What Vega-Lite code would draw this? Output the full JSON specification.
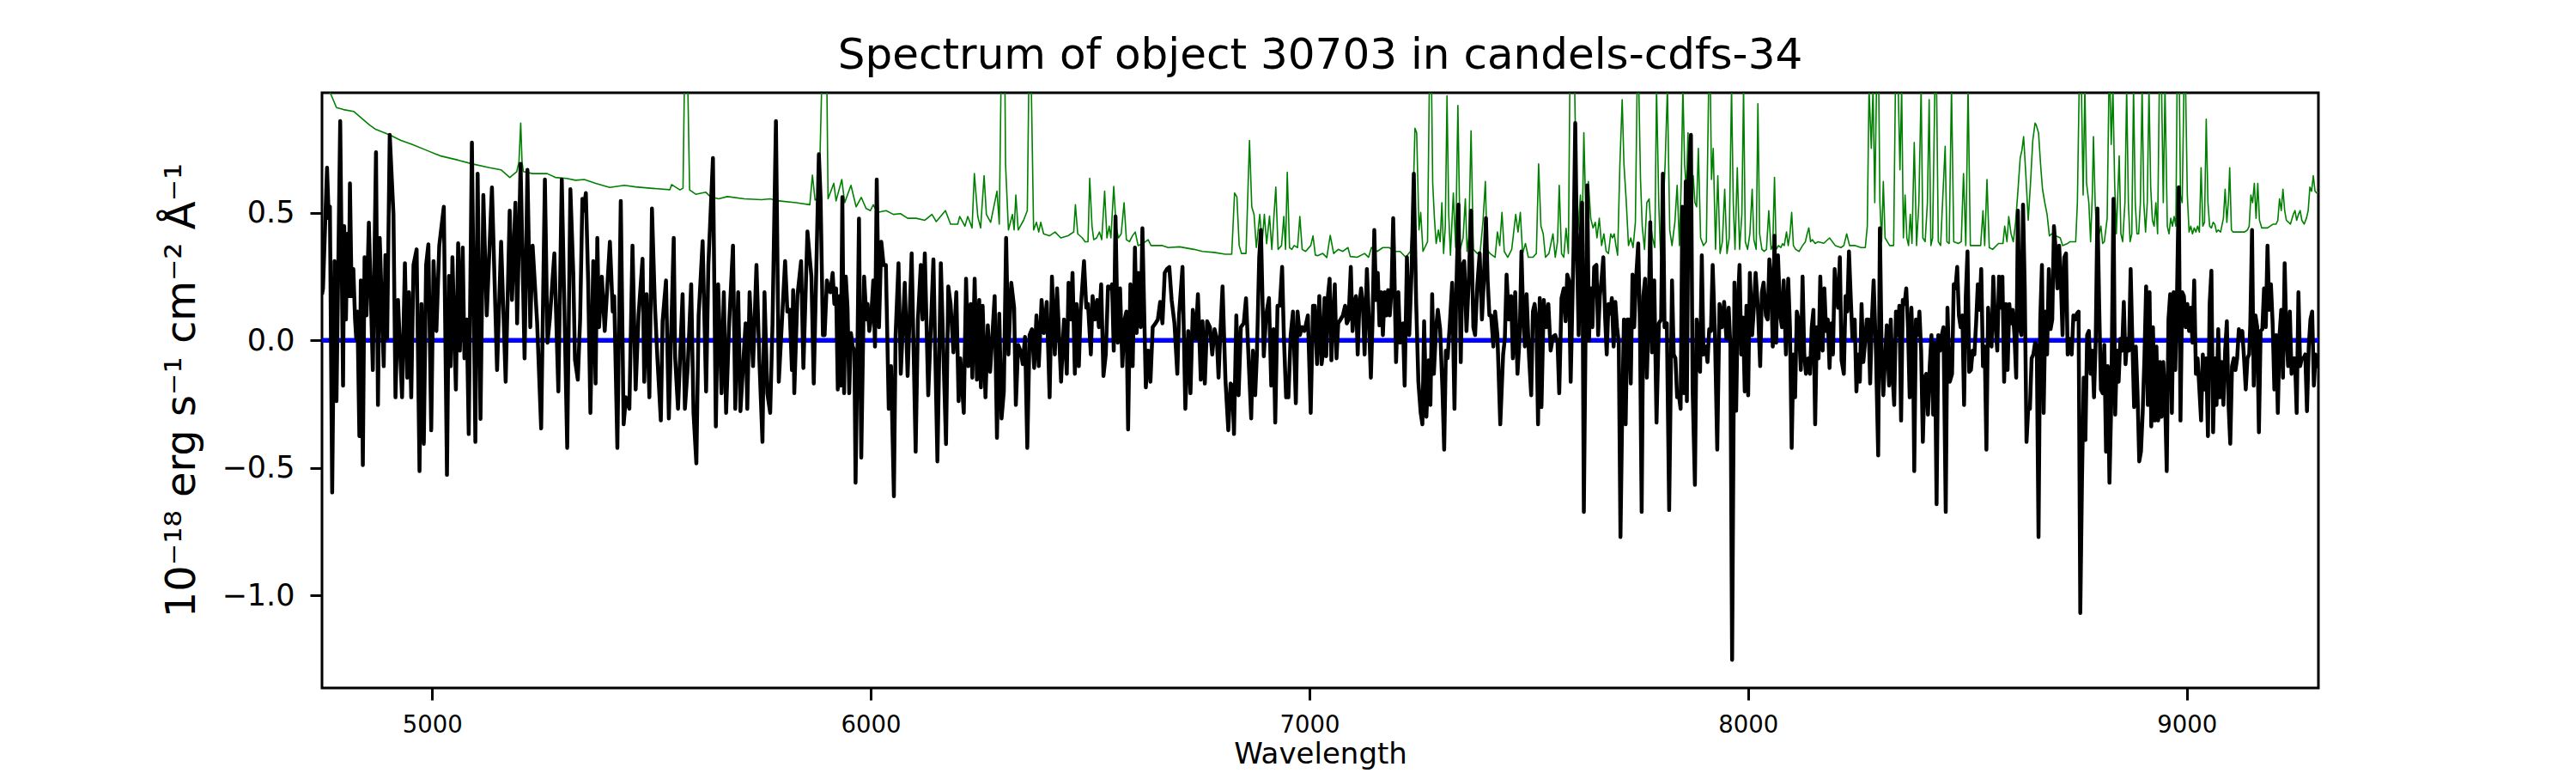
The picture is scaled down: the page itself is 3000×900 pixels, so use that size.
{
  "$schema": "https://vega.github.io/schema/vega-lite/v6.json",
  "description": "Spectrum of object 30703 in candels-cdfs-34: flux (black), error spectrum (green), zero level (blue).",
  "width": 2325,
  "height": 693,
  "autosize": {"type": "none"},
  "padding": {"left": 375, "top": 108, "right": 300, "bottom": 99},
  "background": "white",
  "title": {
    "text": "Spectrum of object 30703 in candels-cdfs-34",
    "font": "DejaVu Sans",
    "fontSize": 50,
    "fontWeight": "normal",
    "color": "black",
    "anchor": "middle",
    "frame": "group",
    "baseline": "alphabetic",
    "offset": 24,
    "dy": 46
  },
  "datasets": {
    "flux": [
      {"w":4749.0,"f":0.18},{"w":4751.3,"f":0.204},{"w":4760.5,"f":0.677},{"w":4764.4,"f":0.479},{"w":4767.0,"f":0.525},{"w":4772.2,"f":-0.596},{"w":4777.5,"f":0.311},{"w":4782.0,"f":-0.238},{"w":4790.5,"f":0.86},{"w":4797.0,"f":-0.177},
      {"w":4799.6,"f":0.448},{"w":4803.6,"f":0.082},{"w":4806.8,"f":0.418},{"w":4810.1,"f":0.174},{"w":4812.7,"f":0.616},{"w":4816.6,"f":0.174},{"w":4820.5,"f":0.28},{"w":4824.4,"f":0.082},{"w":4827.1,"f":0.006},{"w":4829.7,"f":0.113},
      {"w":4834.2,"f":-0.375},{"w":4837.5,"f":0.235},{"w":4842.1,"f":-0.489},{"w":4846.0,"f":0.326},{"w":4850.5,"f":0.098},{"w":4855.8,"f":0.462},{"w":4864.9,"f":-0.116},{"w":4872.1,"f":0.738},{"w":4876.6,"f":-0.253},{"w":4880.6,"f":0.402},
      {"w":4889.7,"f":-0.101},{"w":4893.6,"f":0.335},{"w":4897.5,"f":0.006},{"w":4903.4,"f":0.806},{"w":4911.9,"f":0.494},{"w":4916.5,"f":-0.223},{"w":4922.3,"f":0.159},{"w":4931.5,"f":-0.223},{"w":4938.0,"f":0.303},{"w":4943.2,"f":-0.146},
      {"w":4947.1,"f":0.189},{"w":4952.4,"f":-0.223},{"w":4957.6,"f":0.296},{"w":4964.7,"f":0.357},{"w":4971.3,"f":-0.512},{"w":4975.8,"f":0.143},{"w":4981.1,"f":-0.405},{"w":4986.3,"f":0.296},{"w":4991.5,"f":0.377},{"w":4998.0,"f":-0.352},
      {"w":5003.3,"f":0.311},{"w":5009.8,"f":0.037},{"w":5016.3,"f":0.372},{"w":5026.7,"f":0.524},{"w":5033.9,"f":-0.527},{"w":5038.5,"f":0.253},{"w":5042.4,"f":-0.101},{"w":5046.3,"f":0.326},{"w":5054.2,"f":-0.192},{"w":5059.4,"f":0.381},
      {"w":5063.3,"f":-0.04},{"w":5069.8,"f":0.364},{"w":5073.7,"f":-0.07},{"w":5079.0,"f":0.082},{"w":5083.5,"f":-0.367},{"w":5090.7,"f":0.776},{"w":5098.6,"f":-0.398},{"w":5103.8,"f":0.654},{"w":5110.3,"f":-0.308},{"w":5116.8,"f":0.57},
      {"w":5124.6,"f":0.098},{"w":5136.4,"f":0.6},{"w":5148.1,"f":-0.116},{"w":5157.3,"f":0.387},{"w":5167.7,"f":-0.162},{"w":5176.9,"f":0.509},{"w":5182.1,"f":0.159},{"w":5189.9,"f":0.54},{"w":5193.8,"f":0.067},{"w":5201.7,"f":0.692},
      {"w":5210.8,"f":-0.07},{"w":5217.3,"f":0.669},{"w":5223.8,"f":0.052},{"w":5229.1,"f":0.372},{"w":5239.5,"f":0.067},{"w":5248.6,"f":-0.345},{"w":5257.1,"f":0.631},{"w":5263.0,"f":-0.009},{"w":5268.2,"f":0.082},{"w":5278.7,"f":0.341},
      {"w":5287.8,"f":-0.2},{"w":5295.6,"f":0.631},{"w":5308.0,"f":-0.421},{"w":5315.2,"f":0.593},{"w":5321.8,"f":0.265},{"w":5325.7,"f":-0.075},{"w":5332.2,"f":-0.154},{"w":5337.4,"f":0.082},{"w":5342.6,"f":0.555},{"w":5345.3,"f":0.509},
      {"w":5350.5,"f":0.578},{"w":5355.7,"f":0.235},{"w":5360.9,"f":-0.284},{"w":5367.4,"f":0.311},{"w":5372.7,"f":-0.169},{"w":5376.6,"f":0.402},{"w":5380.5,"f":0.052},{"w":5387.0,"f":0.25},{"w":5393.5,"f":0.037},{"w":5405.3,"f":0.387},
      {"w":5411.8,"f":0.113},{"w":5415.1,"f":0.174},{"w":5422.3,"f":-0.421},{"w":5430.1,"f":0.547},{"w":5436.6,"f":-0.329},{"w":5441.8,"f":-0.223},{"w":5449.7,"f":-0.268},{"w":5456.8,"f":0.372},{"w":5464.0,"f":-0.192},{"w":5470.6,"f":0.098},
      {"w":5479.7,"f":0.32},{"w":5483.6,"f":-0.162},{"w":5488.8,"f":0.181},{"w":5495.3,"f":-0.223},{"w":5501.2,"f":0.517},{"w":5507.7,"f":0.143},{"w":5513.6,"f":-0.07},{"w":5521.4,"f":-0.314},{"w":5525.4,"f":0.075},{"w":5533.2,"f":0.235},
      {"w":5539.7,"f":-0.306},{"w":5550.8,"f":0.402},{"w":5554.1,"f":-0.07},{"w":5560.6,"f":-0.268},{"w":5571.0,"f":0.181},{"w":5576.3,"f":-0.268},{"w":5582.8,"f":-0.101},{"w":5590.6,"f":0.22},{"w":5595.9,"f":-0.284},{"w":5602.4,"f":-0.482},
      {"w":5607.6,"f":0.098},{"w":5616.7,"f":0.389},{"w":5624.6,"f":-0.2},{"w":5629.8,"f":0.296},{"w":5640.2,"f":0.715},{"w":5646.8,"f":-0.337},{"w":5652.0,"f":0.22},{"w":5659.8,"f":-0.207},{"w":5665.0,"f":0.189},{"w":5670.2,"f":-0.284},
      {"w":5676.8,"f":0.052},{"w":5685.9,"f":0.372},{"w":5691.1,"f":-0.268},{"w":5697.7,"f":0.189},{"w":5702.9,"f":-0.277},{"w":5714.6,"f":0.067},{"w":5718.5,"f":-0.268},{"w":5723.8,"f":0.189},{"w":5731.6,"f":-0.101},{"w":5739.4,"f":0.296},
      {"w":5745.9,"f":-0.07},{"w":5753.1,"f":-0.398},{"w":5757.7,"f":0.189},{"w":5764.2,"f":-0.207},{"w":5770.7,"f":-0.284},{"w":5776.0,"f":0.067},{"w":5783.8,"f":0.86},{"w":5790.3,"f":-0.162},{"w":5804.7,"f":0.311},{"w":5809.9,"f":0.113},
      {"w":5815.1,"f":0.12},{"w":5820.3,"f":-0.116},{"w":5823.0,"f":0.197},{"w":5825.6,"f":-0.207},{"w":5832.7,"f":0.174},{"w":5841.2,"f":0.311},{"w":5846.4,"f":-0.108},{"w":5855.6,"f":0.427},{"w":5864.7,"f":0.25},{"w":5870.0,"f":-0.169},
      {"w":5881.7,"f":0.73},{"w":5885.6,"f":0.56},{"w":5890.9,"f":0.021},{"w":5894.8,"f":0.021},{"w":5900.0,"f":0.235},{"w":5903.9,"f":0.204},{"w":5907.8,"f":0.189},{"w":5913.1,"f":0.265},{"w":5917.0,"f":0.143},{"w":5920.9,"f":0.204},
      {"w":5924.8,"f":-0.192},{"w":5928.7,"f":0.174},{"w":5931.3,"f":-0.177},{"w":5935.2,"f":0.562},{"w":5939.2,"f":-0.207},{"w":5943.1,"f":0.25},{"w":5947.0,"f":0.128},{"w":5950.9,"f":-0.207},{"w":5954.8,"f":0.029},{"w":5958.7,"f":-0.024},
      {"w":5962.6,"f":-0.04},{"w":5965.3,"f":-0.558},{"w":5969.2,"f":-0.101},{"w":5973.1,"f":0.478},{"w":5978.3,"f":-0.459},{"w":5984.8,"f":0.25},{"w":5990.1,"f":0.082},{"w":5992.7,"f":0.143},{"w":5996.6,"f":0.037},{"w":6000.5,"f":0.082},
      {"w":6005.7,"f":0.235},{"w":6009.6,"f":-0.024},{"w":6013.6,"f":0.631},{"w":6018.8,"f":0.052},{"w":6024.0,"f":0.387},{"w":6029.2,"f":0.296},{"w":6034.4,"f":0.296},{"w":6041.0,"f":-0.268},{"w":6046.2,"f":-0.101},{"w":6052.7,"f":-0.611},
      {"w":6056.6,"f":0.021},{"w":6063.2,"f":0.303},{"w":6068.4,"f":-0.131},{"w":6077.5,"f":0.226},{"w":6084.0,"f":-0.139},{"w":6093.2,"f":0.341},{"w":6102.3,"f":-0.436},{"w":6107.5,"f":0.082},{"w":6114.0,"f":0.296},{"w":6118.0,"f":0.082},
      {"w":6123.2,"f":0.341},{"w":6131.0,"f":-0.215},{"w":6142.8,"f":0.318},{"w":6151.9,"f":-0.474},{"w":6159.7,"f":0.303},{"w":6171.5,"f":-0.406},{"w":6176.7,"f":0.212},{"w":6181.9,"f":0.143},{"w":6188.4,"f":-0.047},{"w":6195.0,"f":0.189},
      {"w":6200.2,"f":-0.238},{"w":6204.1,"f":-0.07},{"w":6212.0,"f":-0.284},{"w":6217.2,"f":0.242},{"w":6222.4,"f":-0.101},{"w":6227.6,"f":0.143},{"w":6231.5,"f":-0.146},{"w":6236.8,"f":0.242},{"w":6242.0,"f":-0.154},{"w":6247.2,"f":0.159},
      {"w":6251.1,"f":-0.184},{"w":6255.0,"f":0.136},{"w":6261.5,"f":-0.223},{"w":6266.8,"f":0.059},{"w":6272.0,"f":-0.123},{"w":6277.2,"f":0.021},{"w":6282.4,"f":0.174},{"w":6287.7,"f":-0.382},{"w":6292.9,"f":0.105},{"w":6298.1,"f":-0.306},
      {"w":6303.3,"f":-0.2},{"w":6308.5,"f":0.402},{"w":6313.8,"f":-0.055},{"w":6320.3,"f":0.226},{"w":6326.8,"f":0.128},{"w":6330.7,"f":-0.253},{"w":6336.0,"f":-0.017},{"w":6342.5,"f":-0.047},{"w":6346.4,"f":-0.093},{"w":6351.6,"f":0.014},
      {"w":6356.8,"f":-0.421},{"w":6362.0,"f":0.021},{"w":6367.3,"f":0.044},{"w":6372.5,"f":-0.108},{"w":6377.7,"f":0.098},{"w":6382.9,"f":-0.101},{"w":6389.4,"f":0.159},{"w":6394.7,"f":0.029},{"w":6401.2,"f":0.151},{"w":6407.7,"f":-0.223},
      {"w":6413.0,"f":0.25},{"w":6419.5,"f":-0.055},{"w":6424.7,"f":0.204},{"w":6433.8,"f":-0.162},{"w":6440.4,"f":0.082},{"w":6446.9,"f":-0.131},{"w":6450.8,"f":0.226},{"w":6456.0,"f":0.082},{"w":6459.9,"f":0.265},{"w":6465.2,"f":-0.131},
      {"w":6469.1,"f":0.143},{"w":6474.3,"f":-0.101},{"w":6478.2,"f":0.113},{"w":6486.1,"f":0.311},{"w":6491.3,"f":0.128},{"w":6495.2,"f":0.143},{"w":6501.7,"f":-0.055},{"w":6505.6,"f":0.174},{"w":6510.9,"f":0.082},{"w":6516.1,"f":0.159},
      {"w":6520.0,"f":0.052},{"w":6525.2,"f":0.22},{"w":6530.4,"f":-0.139},{"w":6535.7,"f":-0.055},{"w":6540.9,"f":0.212},{"w":6546.1,"f":0.204},{"w":6550.0,"f":0.22},{"w":6553.9,"f":-0.04},{"w":6557.9,"f":0.486},{"w":6563.1,"f":-0.009},
      {"w":6568.3,"f":0.204},{"w":6573.5,"f":-0.101},{"w":6578.7,"f":0.082},{"w":6582.7,"f":0.113},{"w":6586.6,"f":-0.349},{"w":6591.8,"f":0.22},{"w":6597.0,"f":-0.101},{"w":6602.2,"f":0.364},{"w":6606.2,"f":0.029},{"w":6610.1,"f":0.265},
      {"w":6615.3,"f":0.052},{"w":6619.2,"f":0.44},{"w":6627.0,"f":-0.184},{"w":6632.3,"f":-0.04},{"w":6637.5,"f":-0.162},{"w":6642.7,"f":0.052},{"w":6649.2,"f":0.067},{"w":6654.4,"f":0.082},{"w":6659.7,"f":0.151},{"w":6664.9,"f":0.067},
      {"w":6670.1,"f":0.265},{"w":6675.3,"f":0.28},{"w":6680.5,"f":0.288},{"w":6685.8,"f":0.159},{"w":6692.3,"f":0.067},{"w":6698.8,"f":-0.131},{"w":6702.7,"f":0.098},{"w":6710.6,"f":0.288},{"w":6717.1,"f":-0.268},{"w":6723.6,"f":0.037},
      {"w":6728.8,"f":-0.207},{"w":6734.1,"f":0.12},{"w":6740.6,"f":0.006},{"w":6745.8,"f":0.181},{"w":6752.3,"f":-0.154},{"w":6756.2,"f":0.075},{"w":6761.5,"f":-0.169},{"w":6766.7,"f":0.075},{"w":6773.2,"f":0.052},{"w":6778.4,"f":-0.055},
      {"w":6783.7,"f":0.044},{"w":6788.9,"f":0.006},{"w":6792.8,"f":-0.146},{"w":6796.7,"f":0.021},{"w":6801.9,"f":0.212},{"w":6808.5,"f":-0.154},{"w":6815.0,"f":-0.352},{"w":6820.2,"f":-0.169},{"w":6824.1,"f":-0.177},{"w":6828.0,"f":-0.367},
      {"w":6833.3,"f":0.098},{"w":6838.5,"f":-0.215},{"w":6843.7,"f":0.052},{"w":6850.2,"f":0.067},{"w":6855.4,"f":0.165},{"w":6862.0,"f":-0.101},{"w":6867.2,"f":-0.306},{"w":6871.1,"f":-0.04},{"w":6876.3,"f":-0.215},{"w":6880.2,"f":-0.055},
      {"w":6885.5,"f":0.326},{"w":6889.4,"f":0.433},{"w":6895.9,"f":-0.062},{"w":6901.1,"f":0.098},{"w":6907.7,"f":0.166},{"w":6912.9,"f":-0.177},{"w":6918.1,"f":0.044},{"w":6922.0,"f":-0.322},{"w":6927.2,"f":0.136},{"w":6932.5,"f":0.136},
      {"w":6937.7,"f":0.288},{"w":6941.6,"f":0.021},{"w":6946.8,"f":-0.223},{"w":6952.0,"f":-0.223},{"w":6957.2,"f":0.021},{"w":6962.5,"f":0.113},{"w":6969.0,"f":-0.246},{"w":6972.9,"f":0.113},{"w":6978.1,"f":0.021},{"w":6983.4,"f":0.052},
      {"w":6988.6,"f":0.037},{"w":6996.4,"f":0.098},{"w":7002.9,"f":-0.284},{"w":7008.1,"f":0.136},{"w":7012.1,"f":0.136},{"w":7017.3,"f":-0.093},{"w":7022.5,"f":0.174},{"w":7027.7,"f":-0.093},{"w":7030.4,"f":-0.055},{"w":7034.3,"f":0.166},
      {"w":7038.2,"f":-0.062},{"w":7042.1,"f":0.174},{"w":7046.0,"f":0.242},{"w":7050.0,"f":-0.078},{"w":7053.9,"f":0.082},{"w":7057.8,"f":0.22},{"w":7061.7,"f":-0.07},{"w":7065.6,"f":0.067},{"w":7070.8,"f":0.082},{"w":7076.1,"f":0.098},
      {"w":7081.3,"f":0.136},{"w":7085.2,"f":0.067},{"w":7089.1,"f":0.082},{"w":7094.3,"f":0.288},{"w":7098.3,"f":0.037},{"w":7102.2,"f":0.143},{"w":7106.1,"f":0.174},{"w":7110.0,"f":-0.055},{"w":7113.9,"f":0.143},{"w":7117.8,"f":0.204},
      {"w":7121.7,"f":0.143},{"w":7125.7,"f":-0.055},{"w":7130.9,"f":0.28},{"w":7134.8,"f":0.113},{"w":7140.0,"f":-0.146},{"w":7143.9,"f":0.082},{"w":7147.8,"f":0.433},{"w":7151.8,"f":0.159},{"w":7155.7,"f":0.265},{"w":7159.6,"f":0.059},
      {"w":7163.5,"f":0.189},{"w":7167.4,"f":0.021},{"w":7171.3,"f":0.189},{"w":7175.3,"f":0.098},{"w":7179.2,"f":0.197},{"w":7183.1,"f":0.098},{"w":7187.0,"f":0.197},{"w":7190.9,"f":0.479},{"w":7193.5,"f":0.28},{"w":7197.4,"f":-0.085},
      {"w":7202.7,"f":0.189},{"w":7206.6,"f":-0.009},{"w":7213.1,"f":0.067},{"w":7217.0,"f":-0.177},{"w":7222.2,"f":0.326},{"w":7227.5,"f":0.021},{"w":7232.7,"f":0.265},{"w":7237.9,"f":0.654},{"w":7243.1,"f":0.159},{"w":7248.3,"f":-0.162},
      {"w":7253.6,"f":-0.284},{"w":7257.5,"f":-0.329},{"w":7261.4,"f":0.075},{"w":7266.6,"f":-0.299},{"w":7271.8,"f":-0.078},{"w":7275.8,"f":-0.253},{"w":7279.7,"f":0.181},{"w":7283.6,"f":-0.131},{"w":7288.8,"f":0.052},{"w":7292.7,"f":0.12},
      {"w":7297.9,"f":0.044},{"w":7303.2,"f":-0.192},{"w":7307.1,"f":-0.428},{"w":7311.0,"f":-0.04},{"w":7314.9,"f":-0.07},{"w":7320.1,"f":0.067},{"w":7325.4,"f":0.226},{"w":7330.6,"f":-0.268},{"w":7334.5,"f":0.174},{"w":7339.7,"f":0.532},
      {"w":7344.9,"f":-0.085},{"w":7348.8,"f":0.296},{"w":7352.8,"f":0.311},{"w":7358.0,"f":0.037},{"w":7363.2,"f":0.235},{"w":7368.4,"f":0.509},{"w":7373.6,"f":0.052},{"w":7377.6,"f":0.021},{"w":7382.8,"f":0.22},{"w":7388.0,"f":0.341},
      {"w":7393.2,"f":0.082},{"w":7397.1,"f":0.22},{"w":7402.4,"f":0.479},{"w":7406.3,"f":0.235},{"w":7410.2,"f":0.098},{"w":7414.1,"f":0.098},{"w":7419.3,"f":-0.024},{"w":7423.2,"f":0.113},{"w":7428.5,"f":0.021},{"w":7435.0,"f":-0.329},
      {"w":7441.5,"f":-0.055},{"w":7445.4,"f":0.006},{"w":7449.4,"f":0.258},{"w":7454.6,"f":0.082},{"w":7459.8,"f":0.174},{"w":7463.7,"f":-0.07},{"w":7469.0,"f":0.189},{"w":7474.2,"f":-0.131},{"w":7479.4,"f":0.021},{"w":7483.3,"f":0.349},
      {"w":7487.2,"f":0.098},{"w":7491.1,"f":-0.024},{"w":7495.0,"f":0.181},{"w":7500.3,"f":-0.055},{"w":7505.5,"f":-0.215},{"w":7509.4,"f":0.113},{"w":7513.3,"f":0.143},{"w":7517.2,"f":0.082},{"w":7521.1,"f":-0.329},{"w":7525.0,"f":0.166},
      {"w":7528.9,"f":-0.261},{"w":7534.2,"f":0.159},{"w":7539.4,"f":0.052},{"w":7544.6,"f":0.143},{"w":7549.8,"f":-0.04},{"w":7555.1,"f":0.014},{"w":7560.3,"f":0.021},{"w":7565.5,"f":-0.009},{"w":7569.4,"f":-0.207},{"w":7574.6,"f":0.166},
      {"w":7579.8,"f":0.204},{"w":7583.8,"f":0.075},{"w":7587.7,"f":0.258},{"w":7591.6,"f":0.235},{"w":7595.5,"f":-0.162},{"w":7602.0,"f":0.357},{"w":7605.9,"f":0.852},{"w":7609.8,"f":0.357},{"w":7613.7,"f":0.021},{"w":7617.7,"f":0.387},
      {"w":7621.6,"f":0.54},{"w":7625.5,"f":-0.672},{"w":7629.4,"f":0.021},{"w":7633.3,"f":0.608},{"w":7637.2,"f":-0.001},{"w":7641.2,"f":0.204},{"w":7645.1,"f":0.052},{"w":7649.0,"f":0.288},{"w":7654.2,"f":0.296},{"w":7658.1,"f":0.021},
      {"w":7662.0,"f":0.174},{"w":7666.0,"f":0.242},{"w":7669.9,"f":0.326},{"w":7673.8,"f":0.098},{"w":7677.7,"f":-0.055},{"w":7681.6,"f":0.143},{"w":7685.5,"f":0.105},{"w":7689.4,"f":0.166},{"w":7693.4,"f":-0.024},{"w":7697.3,"f":0.151},
      {"w":7701.2,"f":0.052},{"w":7705.1,"f":-0.009},{"w":7709.0,"f":-0.771},{"w":7712.9,"f":-0.29},{"w":7716.9,"f":0.082},{"w":7720.8,"f":-0.329},{"w":7724.7,"f":0.082},{"w":7728.6,"f":0.082},{"w":7732.5,"f":-0.169},{"w":7736.4,"f":0.258},
      {"w":7740.3,"f":0.052},{"w":7744.3,"f":0.235},{"w":7749.5,"f":0.38},{"w":7753.4,"f":0.052},{"w":7757.3,"f":-0.672},{"w":7761.2,"f":0.174},{"w":7765.1,"f":0.242},{"w":7769.1,"f":-0.146},{"w":7773.0,"f":0.082},{"w":7776.9,"f":0.463},
      {"w":7780.8,"f":-0.047},{"w":7786.0,"f":0.235},{"w":7791.2,"f":-0.322},{"w":7796.5,"f":0.067},{"w":7801.7,"f":0.082},{"w":7805.6,"f":0.654},{"w":7809.5,"f":0.052},{"w":7814.7,"f":0.067},{"w":7820.0,"f":-0.665},{"w":7826.5,"f":0.235},
      {"w":7830.4,"f":-0.055},{"w":7834.3,"f":-0.07},{"w":7838.2,"f":-0.223},{"w":7842.2,"f":-0.215},{"w":7846.1,"f":-0.268},{"w":7850.0,"f":0.524},{"w":7853.9,"f":-0.207},{"w":7857.8,"f":0.623},{"w":7860.4,"f":-0.238},{"w":7864.3,"f":0.631},
      {"w":7869.6,"f":0.806},{"w":7873.5,"f":-0.192},{"w":7878.7,"f":-0.566},{"w":7882.6,"f":0.082},{"w":7886.5,"f":-0.009},{"w":7890.4,"f":-0.123},{"w":7894.4,"f":0.334},{"w":7898.3,"f":-0.055},{"w":7903.5,"f":-0.024},{"w":7907.4,"f":-0.085},
      {"w":7911.3,"f":0.044},{"w":7915.2,"f":0.037},{"w":7919.2,"f":0.296},{"w":7924.4,"f":0.021},{"w":7929.6,"f":-0.428},{"w":7934.8,"f":0.143},{"w":7940.0,"f":0.052},{"w":7945.3,"f":0.151},{"w":7950.5,"f":0.006},{"w":7955.7,"f":0.128},
      {"w":7959.6,"f":-0.024},{"w":7963.5,"f":-1.252},{"w":7968.8,"f":0.227},{"w":7972.7,"f":-0.276},{"w":7976.6,"f":0.143},{"w":7980.5,"f":0.296},{"w":7984.4,"f":-0.055},{"w":7988.3,"f":0.09},{"w":7992.3,"f":-0.2},{"w":7996.2,"f":0.136},
      {"w":8000.1,"f":-0.215},{"w":8004.0,"f":0.265},{"w":8009.2,"f":0.021},{"w":8013.1,"f":0.128},{"w":8017.1,"f":0.265},{"w":8022.3,"f":0.128},{"w":8027.5,"f":-0.101},{"w":8031.4,"f":0.189},{"w":8035.3,"f":0.227},{"w":8040.5,"f":0.098},
      {"w":8044.5,"f":0.082},{"w":8048.4,"f":0.318},{"w":8052.3,"f":0.235},{"w":8056.2,"f":-0.024},{"w":8060.1,"f":0.41},{"w":8064.0,"f":-0.009},{"w":8068.0,"f":0.334},{"w":8073.2,"f":0.098},{"w":8077.1,"f":0.052},{"w":8081.0,"f":0.235},
      {"w":8086.2,"f":-0.055},{"w":8091.4,"f":0.242},{"w":8095.4,"f":0.052},{"w":8099.3,"f":-0.421},{"w":8103.2,"f":-0.055},{"w":8107.1,"f":-0.223},{"w":8111.0,"f":0.113},{"w":8114.9,"f":0.082},{"w":8120.2,"f":-0.116},{"w":8124.1,"f":0.25},
      {"w":8128.0,"f":-0.055},{"w":8131.9,"f":-0.131},{"w":8137.1,"f":-0.07},{"w":8141.1,"f":-0.131},{"w":8145.0,"f":0.052},{"w":8148.9,"f":0.12},{"w":8152.8,"f":-0.329},{"w":8156.7,"f":0.052},{"w":8160.6,"f":-0.07},{"w":8164.5,"f":0.25},
      {"w":8169.9,"f":-0.04},{"w":8173.8,"f":0.204},{"w":8177.7,"f":0.037},{"w":8181.6,"f":0.082},{"w":8185.6,"f":-0.108},{"w":8189.5,"f":0.067},{"w":8193.4,"f":-0.055},{"w":8197.3,"f":0.28},{"w":8201.2,"f":0.174},{"w":8205.1,"f":0.128},
      {"w":8209.1,"f":0.326},{"w":8213.0,"f":-0.078},{"w":8218.2,"f":-0.131},{"w":8222.1,"f":0.174},{"w":8226.0,"f":0.113},{"w":8229.9,"f":0.349},{"w":8233.8,"f":0.174},{"w":8237.8,"f":0.006},{"w":8243.0,"f":0.082},{"w":8246.9,"f":-0.2},
      {"w":8250.8,"f":-0.055},{"w":8254.7,"f":-0.162},{"w":8258.6,"f":0.143},{"w":8262.6,"f":-0.085},{"w":8266.5,"f":-0.009},{"w":8270.4,"f":0.082},{"w":8274.3,"f":0.082},{"w":8278.2,"f":-0.169},{"w":8282.1,"f":0.082},{"w":8286.1,"f":0.235},
      {"w":8291.3,"f":-0.04},{"w":8296.5,"f":-0.451},{"w":8300.4,"f":0.44},{"w":8304.3,"f":-0.04},{"w":8308.2,"f":-0.215},{"w":8312.2,"f":-0.07},{"w":8316.1,"f":0.059},{"w":8321.3,"f":-0.177},{"w":8325.2,"f":0.082},{"w":8329.1,"f":-0.131},
      {"w":8333.0,"f":-0.253},{"w":8337.0,"f":0.113},{"w":8340.9,"f":0.021},{"w":8344.8,"f":0.136},{"w":8348.7,"f":-0.314},{"w":8352.6,"f":0.159},{"w":8356.5,"f":0.143},{"w":8360.5,"f":0.204},{"w":8364.4,"f":0.052},{"w":8368.3,"f":-0.223},
      {"w":8372.2,"f":0.128},{"w":8376.1,"f":-0.07},{"w":8378.7,"f":-0.512},{"w":8382.6,"f":0.082},{"w":8386.6,"f":0.021},{"w":8390.5,"f":0.113},{"w":8394.4,"f":-0.04},{"w":8398.3,"f":-0.398},{"w":8402.2,"f":-0.146},{"w":8406.1,"f":-0.131},
      {"w":8410.0,"f":-0.291},{"w":8414.0,"f":-0.101},{"w":8417.9,"f":0.021},{"w":8421.8,"f":-0.291},{"w":8425.7,"f":-0.009},{"w":8429.6,"f":-0.642},{"w":8433.5,"f":0.021},{"w":8437.5,"f":-0.04},{"w":8441.4,"f":0.021},{"w":8445.3,"f":0.052},
      {"w":8450.5,"f":-0.672},{"w":8454.4,"f":0.128},{"w":8459.7,"f":-0.162},{"w":8464.9,"f":-0.131},{"w":8468.8,"f":0.22},{"w":8472.7,"f":0.204},{"w":8476.6,"f":0.288},{"w":8480.5,"f":0.098},{"w":8484.4,"f":0.052},{"w":8488.4,"f":0.098},
      {"w":8492.3,"f":-0.253},{"w":8496.2,"f":0.174},{"w":8500.1,"f":0.349},{"w":8504.0,"f":-0.123},{"w":8507.9,"f":-0.116},{"w":8511.9,"f":-0.04},{"w":8515.8,"f":-0.055},{"w":8519.7,"f":0.067},{"w":8523.6,"f":0.22},{"w":8527.5,"f":0.12},
      {"w":8531.4,"f":0.28},{"w":8535.4,"f":-0.101},{"w":8539.3,"f":-0.024},{"w":8543.2,"f":-0.428},{"w":8547.1,"f":0.128},{"w":8551.0,"f":0.006},{"w":8554.9,"f":-0.024},{"w":8558.9,"f":0.25},{"w":8562.8,"f":0.082},{"w":8568.0,"f":-0.04},
      {"w":8571.9,"f":0.25},{"w":8575.8,"f":0.128},{"w":8579.7,"f":0.25},{"w":8583.6,"f":-0.162},{"w":8587.6,"f":0.143},{"w":8591.5,"f":-0.116},{"w":8595.4,"f":0.143},{"w":8599.3,"f":0.067},{"w":8603.2,"f":0.12},{"w":8607.1,"f":0.021},
      {"w":8611.1,"f":-0.146},{"w":8615.0,"f":0.509},{"w":8618.9,"f":0.052},{"w":8622.8,"f":0.021},{"w":8626.7,"f":0.532},{"w":8630.6,"f":0.204},{"w":8634.6,"f":-0.398},{"w":8638.5,"f":-0.268},{"w":8642.4,"f":-0.268},{"w":8646.3,"f":-0.07},
      {"w":8650.2,"f":-0.055},{"w":8654.1,"f":-0.009},{"w":8658.0,"f":-0.017},{"w":8662.0,"f":-0.771},{"w":8665.9,"f":0.082},{"w":8669.8,"f":0.296},{"w":8673.7,"f":-0.284},{"w":8677.6,"f":0.113},{"w":8681.5,"f":-0.055},{"w":8685.5,"f":0.28},
      {"w":8689.4,"f":0.044},{"w":8693.3,"f":0.082},{"w":8697.2,"f":0.448},{"w":8701.1,"f":0.357},{"w":8705.0,"f":0.204},{"w":8709.0,"f":0.372},{"w":8712.9,"f":0.235},{"w":8716.8,"f":0.021},{"w":8720.7,"f":0.326},{"w":8724.6,"f":0.341},
      {"w":8728.5,"f":-0.055},{"w":8732.4,"f":0.006},{"w":8737.6,"f":-0.055},{"w":8741.5,"f":0.098},{"w":8745.4,"f":0.082},{"w":8749.3,"f":0.105},{"w":8753.3,"f":0.113},{"w":8757.2,"f":-1.069},{"w":8761.1,"f":-0.543},{"w":8765.0,"f":-0.146},
      {"w":8768.9,"f":-0.39},{"w":8772.8,"f":0.021},{"w":8776.7,"f":0.037},{"w":8780.7,"f":-0.131},{"w":8784.6,"f":-0.04},{"w":8788.5,"f":-0.223},{"w":8792.4,"f":0.006},{"w":8796.3,"f":0.517},{"w":8800.2,"f":0.143},{"w":8804.2,"f":-0.192},
      {"w":8808.1,"f":-0.207},{"w":8812.0,"f":-0.017},{"w":8815.9,"f":-0.436},{"w":8819.8,"f":-0.101},{"w":8823.7,"f":-0.558},{"w":8827.7,"f":-0.253},{"w":8832.9,"f":0.555},{"w":8836.8,"f":-0.291},{"w":8840.7,"f":-0.04},{"w":8844.6,"f":-0.162},
      {"w":8848.5,"f":0.006},{"w":8852.5,"f":-0.04},{"w":8856.4,"f":0.151},{"w":8860.3,"f":-0.093},{"w":8864.2,"f":0.006},{"w":8868.1,"f":-0.04},{"w":8872.0,"f":0.28},{"w":8876.0,"f":-0.009},{"w":8879.9,"f":-0.261},{"w":8883.8,"f":-0.024},
      {"w":8887.7,"f":-0.207},{"w":8891.6,"f":-0.474},{"w":8895.5,"f":-0.436},{"w":8899.4,"f":-0.284},{"w":8903.4,"f":-0.07},{"w":8907.3,"f":0.212},{"w":8911.2,"f":-0.253},{"w":8915.1,"f":0.189},{"w":8919.0,"f":-0.337},{"w":8922.9,"f":0.052},
      {"w":8926.9,"f":-0.314},{"w":8930.8,"f":-0.024},{"w":8934.7,"f":-0.314},{"w":8938.6,"f":-0.085},{"w":8942.5,"f":-0.299},{"w":8946.4,"f":-0.085},{"w":8950.3,"f":-0.223},{"w":8954.3,"f":-0.512},{"w":8958.2,"f":0.082},{"w":8962.1,"f":0.181},
      {"w":8966.0,"f":-0.284},{"w":8969.9,"f":0.189},{"w":8973.8,"f":-0.116},{"w":8977.8,"f":0.189},{"w":8981.7,"f":0.601},{"w":8985.6,"f":-0.314},{"w":8989.5,"f":0.189},{"w":8993.4,"f":0.174},{"w":8997.3,"f":0.052},{"w":9001.2,"f":0.143},
      {"w":9005.2,"f":0.037},{"w":9009.1,"f":0.128},{"w":9013.0,"f":-0.009},{"w":9016.9,"f":0.235},{"w":9020.8,"f":-0.131},{"w":9024.7,"f":-0.07},{"w":9028.7,"f":-0.192},{"w":9032.6,"f":-0.314},{"w":9036.5,"f":-0.055},{"w":9040.4,"f":-0.192},
      {"w":9044.3,"f":-0.07},{"w":9048.2,"f":-0.375},{"w":9052.1,"f":0.143},{"w":9056.1,"f":0.273},{"w":9060.0,"f":-0.36},{"w":9063.9,"f":-0.07},{"w":9067.8,"f":-0.253},{"w":9071.7,"f":0.044},{"w":9075.6,"f":-0.223},{"w":9079.6,"f":-0.085},
      {"w":9083.5,"f":-0.253},{"w":9087.4,"f":-0.04},{"w":9091.3,"f":0.075},{"w":9095.2,"f":-0.253},{"w":9099.1,"f":-0.405},{"w":9103.1,"f":-0.101},{"w":9107.0,"f":-0.07},{"w":9110.9,"f":-0.116},{"w":9114.8,"f":-0.07},{"w":9118.7,"f":0.044},
      {"w":9122.6,"f":0.006},{"w":9126.5,"f":0.037},{"w":9130.5,"f":-0.07},{"w":9134.4,"f":-0.192},{"w":9138.3,"f":-0.07},{"w":9142.2,"f":-0.055},{"w":9144.8,"f":0.067},{"w":9148.7,"f":0.433},{"w":9152.6,"f":-0.177},{"w":9156.6,"f":0.098},
      {"w":9160.5,"f":0.052},{"w":9164.4,"f":-0.36},{"w":9168.3,"f":0.037},{"w":9172.2,"f":0.044},{"w":9176.1,"f":0.204},{"w":9180.1,"f":0.052},{"w":9184.0,"f":0.372},{"w":9187.9,"f":0.12},{"w":9191.8,"f":0.22},{"w":9195.7,"f":0.067},
      {"w":9199.6,"f":-0.192},{"w":9203.6,"f":0.021},{"w":9207.5,"f":-0.284},{"w":9211.4,"f":0.021},{"w":9215.3,"f":0.12},{"w":9219.2,"f":-0.146},{"w":9223.1,"f":0.303},{"w":9227.0,"f":0.021},{"w":9231.0,"f":-0.101},{"w":9234.9,"f":0.113},
      {"w":9238.8,"f":-0.131},{"w":9242.7,"f":-0.07},{"w":9246.6,"f":-0.07},{"w":9250.5,"f":-0.284},{"w":9254.5,"f":0.189},{"w":9258.4,"f":-0.101},{"w":9262.3,"f":-0.07},{"w":9266.2,"f":-0.07},{"w":9270.1,"f":-0.055},{"w":9274.0,"f":-0.277},
      {"w":9278.0,"f":-0.024},{"w":9281.9,"f":0.082},{"w":9285.8,"f":0.113},{"w":9289.7,"f":-0.177},{"w":9293.6,"f":-0.055},{"w":9297.5,"f":-0.101},{"w":9300.0,"f":-0.06}
    ],
    "err": [
      {"w":4749,"e":1.02},{"w":4760,"e":0.99},{"w":4769,"e":0.966},{"w":4782,"e":0.913},{"w":4798,"e":0.905},{"w":4821,"e":0.898},{"w":4857,"e":0.845},{"w":4870,"e":0.829},{"w":4903,"e":0.806},{"w":4929,"e":0.784},
      {"w":4955,"e":0.768},{"w":4988,"e":0.745},{"w":5020,"e":0.723},{"w":5059,"e":0.707},{"w":5092,"e":0.692},{"w":5131,"e":0.677},{"w":5157,"e":0.669},{"w":5177,"e":0.639},{"w":5193,"e":0.662},{"w":5198,"e":0.7},
      {"w":5202,"e":0.852},{"w":5205,"e":0.7},{"w":5208,"e":0.662},{"w":5229,"e":0.654},{"w":5262,"e":0.654},{"w":5281,"e":0.639},{"w":5307,"e":0.635},{"w":5327,"e":0.628},{"w":5347,"e":0.631},{"w":5373,"e":0.616},
      {"w":5405,"e":0.6},{"w":5438,"e":0.608},{"w":5464,"e":0.602},{"w":5503,"e":0.596},{"w":5542,"e":0.591},{"w":5546,"e":0.611},{"w":5565,"e":0.59},{"w":5572,"e":0.597},{"w":5575,"e":0.99},{"w":5583,"e":0.99},
      {"w":5587,"e":0.59},{"w":5601,"e":0.573},{"w":5624,"e":0.581},{"w":5634,"e":0.564},{"w":5653,"e":0.555},{"w":5673,"e":0.564},{"w":5712,"e":0.555},{"w":5751,"e":0.552},{"w":5771,"e":0.555},{"w":5790,"e":0.547},
      {"w":5830,"e":0.54},{"w":5861,"e":0.532},{"w":5867,"e":0.648},{"w":5873,"e":0.55},{"w":5882,"e":0.56},{"w":5888,"e":0.99},{"w":5900,"e":0.99},{"w":5902.6,"e":0.555},{"w":5915.7,"e":0.616},{"w":5920.9,"e":0.547},
      {"w":5933.9,"e":0.631},{"w":5940.5,"e":0.54},{"w":5954.8,"e":0.608},{"w":5966.6,"e":0.524},{"w":5978.3,"e":0.561},{"w":5989.4,"e":0.517},{"w":5999.2,"e":0.509},{"w":6005.7,"e":0.532},{"w":6015.5,"e":0.502},{"w":6035.1,"e":0.509},
      {"w":6051.4,"e":0.494},{"w":6067.7,"e":0.497},{"w":6084.0,"e":0.479},{"w":6103.6,"e":0.479},{"w":6123.2,"e":0.471},{"w":6139.5,"e":0.494},{"w":6149.3,"e":0.466},{"w":6170.2,"e":0.509},{"w":6181.9,"e":0.456},{"w":6198.2,"e":0.456},
      {"w":6202.8,"e":0.486},{"w":6214.6,"e":0.448},{"w":6221.1,"e":0.486},{"w":6230.9,"e":0.441},{"w":6236.1,"e":0.654},{"w":6243.9,"e":0.486},{"w":6250.4,"e":0.441},{"w":6258.3,"e":0.646},{"w":6263.5,"e":0.494},{"w":6273.3,"e":0.463},
      {"w":6287.7,"e":0.585},{"w":6292.9,"e":0.456},{"w":6296.8,"e":0.99},{"w":6305.9,"e":0.99},{"w":6307.2,"e":0.692},{"w":6313.8,"e":0.433},{"w":6322.9,"e":0.494},{"w":6326.8,"e":0.433},{"w":6330.7,"e":0.57},{"w":6336.0,"e":0.433},
      {"w":6348.3,"e":0.471},{"w":6356.8,"e":0.509},{"w":6360.1,"e":0.99},{"w":6366.0,"e":0.99},{"w":6371.2,"e":0.433},{"w":6377.7,"e":0.463},{"w":6382.9,"e":0.425},{"w":6387.5,"e":0.463},{"w":6394.0,"e":0.418},{"w":6407.1,"e":0.41},
      {"w":6420.1,"e":0.425},{"w":6433.2,"e":0.402},{"w":6449.5,"e":0.41},{"w":6456.1,"e":0.418},{"w":6462.6,"e":0.425},{"w":6466.5,"e":0.532},{"w":6471.7,"e":0.418},{"w":6482.2,"e":0.402},{"w":6488.7,"e":0.387},{"w":6495.2,"e":0.387},
      {"w":6499.1,"e":0.636},{"w":6504.3,"e":0.448},{"w":6508.3,"e":0.395},{"w":6514.8,"e":0.402},{"w":6521.3,"e":0.425},{"w":6526.5,"e":0.395},{"w":6533.1,"e":0.585},{"w":6538.3,"e":0.402},{"w":6543.5,"e":0.448},{"w":6547.4,"e":0.402},
      {"w":6553.9,"e":0.604},{"w":6559.2,"e":0.448},{"w":6564.4,"e":0.402},{"w":6570.9,"e":0.418},{"w":6577.4,"e":0.54},{"w":6582.7,"e":0.395},{"w":6589.8,"e":0.387},{"w":6596.4,"e":0.41},{"w":6602.9,"e":0.425},{"w":6609.4,"e":0.372},
      {"w":6619.2,"e":0.379},{"w":6632.3,"e":0.395},{"w":6638.8,"e":0.372},{"w":6664.9,"e":0.372},{"w":6677.9,"e":0.364},{"w":6704.0,"e":0.367},{"w":6736.7,"e":0.357},{"w":6756.2,"e":0.349},{"w":6782.4,"e":0.345},{"w":6808.5,"e":0.338},
      {"w":6822.8,"e":0.338},{"w":6829.3,"e":0.578},{"w":6834.6,"e":0.562},{"w":6839.8,"e":0.372},{"w":6845.0,"e":0.341},{"w":6855.4,"e":0.341},{"w":6863.3,"e":0.784},{"w":6868.5,"e":0.524},{"w":6873.7,"e":0.494},{"w":6878.9,"e":0.364},
      {"w":6886.8,"e":0.494},{"w":6892.0,"e":0.379},{"w":6897.2,"e":0.494},{"w":6902.4,"e":0.379},{"w":6909.0,"e":0.488},{"w":6914.2,"e":0.357},{"w":6923.3,"e":0.601},{"w":6928.5,"e":0.357},{"w":6936.4,"e":0.372},{"w":6941.6,"e":0.486},
      {"w":6945.5,"e":0.357},{"w":6949.4,"e":0.659},{"w":6954.6,"e":0.364},{"w":6959.9,"e":0.357},{"w":6965.1,"e":0.372},{"w":6972.9,"e":0.364},{"w":6978.1,"e":0.486},{"w":6983.4,"e":0.357},{"w":6991.2,"e":0.349},{"w":7002.9,"e":0.372},
      {"w":7008.1,"e":0.41},{"w":7013.4,"e":0.335},{"w":7018.6,"e":0.332},{"w":7030.4,"e":0.341},{"w":7039.5,"e":0.325},{"w":7047.3,"e":0.412},{"w":7055.2,"e":0.341},{"w":7065.6,"e":0.357},{"w":7076.1,"e":0.349},{"w":7087.8,"e":0.364},
      {"w":7093.0,"e":0.329},{"w":7108.7,"e":0.326},{"w":7125.7,"e":0.341},{"w":7134.8,"e":0.326},{"w":7141.3,"e":0.364},{"w":7154.4,"e":0.349},{"w":7167.4,"e":0.364},{"w":7181.8,"e":0.364},{"w":7193.5,"e":0.349},{"w":7206.6,"e":0.349},
      {"w":7219.6,"e":0.326},{"w":7230.1,"e":0.349},{"w":7235.3,"e":0.479},{"w":7240.5,"e":0.832},{"w":7244.4,"e":0.814},{"w":7249.7,"e":0.433},{"w":7253.6,"e":0.502},{"w":7258.8,"e":0.349},{"w":7269.2,"e":0.387},{"w":7273.2,"e":0.99},
      {"w":7278.4,"e":0.99},{"w":7281.0,"e":0.616},{"w":7284.9,"e":0.479},{"w":7288.8,"e":0.38},{"w":7294.0,"e":0.433},{"w":7297.9,"e":0.387},{"w":7301.9,"e":0.54},{"w":7305.8,"e":0.341},{"w":7309.7,"e":0.448},{"w":7313.6,"e":0.959},
      {"w":7317.5,"e":0.494},{"w":7321.4,"e":0.334},{"w":7328.0,"e":0.578},{"w":7333.2,"e":0.364},{"w":7338.4,"e":0.921},{"w":7343.6,"e":0.357},{"w":7350.2,"e":0.402},{"w":7355.4,"e":0.555},{"w":7359.3,"e":0.349},{"w":7363.2,"e":0.402},
      {"w":7368.4,"e":0.822},{"w":7373.6,"e":0.357},{"w":7382.8,"e":0.341},{"w":7389.3,"e":0.349},{"w":7395.8,"e":0.471},{"w":7401.0,"e":0.623},{"w":7405.0,"e":0.357},{"w":7411.5,"e":0.341},{"w":7423.2,"e":0.326},{"w":7428.5,"e":0.425},
      {"w":7433.7,"e":0.372},{"w":7438.9,"e":0.502},{"w":7444.1,"e":0.349},{"w":7452.0,"e":0.326},{"w":7461.1,"e":0.357},{"w":7470.2,"e":0.494},{"w":7475.5,"e":0.425},{"w":7480.7,"e":0.502},{"w":7485.9,"e":0.341},{"w":7492.4,"e":0.38},
      {"w":7499.0,"e":0.326},{"w":7509.4,"e":0.326},{"w":7517.2,"e":0.341},{"w":7522.4,"e":0.692},{"w":7527.7,"e":0.448},{"w":7532.9,"e":0.418},{"w":7538.1,"e":0.326},{"w":7545.9,"e":0.341},{"w":7555.1,"e":0.418},{"w":7560.3,"e":0.326},
      {"w":7565.5,"e":0.387},{"w":7569.4,"e":0.608},{"w":7574.6,"e":0.341},{"w":7579.8,"e":0.326},{"w":7585.0,"e":0.44},{"w":7590.3,"e":0.341},{"w":7593.5,"e":0.99},{"w":7604.6,"e":0.99},{"w":7608.5,"e":0.585},{"w":7612.4,"e":0.433},
      {"w":7617.7,"e":0.57},{"w":7621.6,"e":0.402},{"w":7625.5,"e":0.814},{"w":7630.7,"e":0.448},{"w":7635.9,"e":0.623},{"w":7641.2,"e":0.479},{"w":7646.4,"e":0.441},{"w":7651.6,"e":0.463},{"w":7655.5,"e":0.402},{"w":7660.7,"e":0.479},
      {"w":7666.0,"e":0.372},{"w":7671.2,"e":0.418},{"w":7676.4,"e":0.349},{"w":7681.6,"e":0.341},{"w":7686.8,"e":0.418},{"w":7690.7,"e":0.402},{"w":7694.7,"e":0.418},{"w":7698.6,"e":0.372},{"w":7702.5,"e":0.334},{"w":7707.7,"e":0.692},
      {"w":7712.9,"e":0.944},{"w":7716.9,"e":0.692},{"w":7722.1,"e":0.547},{"w":7727.3,"e":0.372},{"w":7732.5,"e":0.402},{"w":7737.7,"e":0.364},{"w":7743.0,"e":0.463},{"w":7746.9,"e":0.99},{"w":7750.8,"e":0.99},{"w":7754.7,"e":0.631},
      {"w":7758.6,"e":0.448},{"w":7763.8,"e":0.357},{"w":7769.1,"e":0.54},{"w":7774.3,"e":0.555},{"w":7778.2,"e":0.448},{"w":7782.1,"e":0.402},{"w":7787.3,"e":0.364},{"w":7791.2,"e":0.99},{"w":7796.5,"e":0.524},{"w":7800.4,"e":0.334},
      {"w":7805.6,"e":0.486},{"w":7810.8,"e":0.692},{"w":7816.0,"e":0.99},{"w":7821.3,"e":0.433},{"w":7826.5,"e":0.372},{"w":7833.0,"e":0.463},{"w":7838.2,"e":0.608},{"w":7843.5,"e":0.372},{"w":7847.4,"e":0.616},{"w":7851.3,"e":0.99},
      {"w":7855.2,"e":0.692},{"w":7859.1,"e":0.585},{"w":7863.0,"e":0.814},{"w":7867.0,"e":0.555},{"w":7870.9,"e":0.502},{"w":7874.8,"e":0.646},{"w":7878.7,"e":0.54},{"w":7882.6,"e":0.524},{"w":7886.5,"e":0.753},{"w":7891.7,"e":0.402},
      {"w":7898.3,"e":0.372},{"w":7904.8,"e":0.387},{"w":7910.0,"e":0.99},{"w":7913.9,"e":0.99},{"w":7916.5,"e":0.631},{"w":7920.5,"e":0.753},{"w":7925.7,"e":0.357},{"w":7930.9,"e":0.646},{"w":7936.1,"e":0.341},{"w":7941.3,"e":0.387},
      {"w":7946.6,"e":0.593},{"w":7951.8,"e":0.341},{"w":7957.0,"e":0.402},{"w":7962.2,"e":0.99},{"w":7966.1,"e":0.54},{"w":7970.1,"e":0.357},{"w":7975.3,"e":0.677},{"w":7980.5,"e":0.357},{"w":7985.7,"e":0.494},{"w":7989.6,"e":0.99},
      {"w":7993.6,"e":0.387},{"w":7998.8,"e":0.357},{"w":8004.0,"e":0.418},{"w":8009.2,"e":0.593},{"w":8013.1,"e":0.395},{"w":8018.4,"e":0.357},{"w":8022.3,"e":0.928},{"w":8026.2,"e":0.418},{"w":8031.4,"e":0.357},{"w":8036.6,"e":0.349},
      {"w":8041.8,"e":0.357},{"w":8047.1,"e":0.509},{"w":8052.3,"e":0.357},{"w":8056.2,"e":0.372},{"w":8060.1,"e":0.639},{"w":8064.0,"e":0.357},{"w":8069.3,"e":0.372},{"w":8074.5,"e":0.364},{"w":8078.4,"e":0.379},{"w":8082.3,"e":0.372},
      {"w":8087.5,"e":0.425},{"w":8091.4,"e":0.372},{"w":8095.4,"e":0.418},{"w":8099.3,"e":0.502},{"w":8103.2,"e":0.372},{"w":8108.4,"e":0.357},{"w":8116.3,"e":0.349},{"w":8124.1,"e":0.372},{"w":8130.6,"e":0.387},{"w":8134.5,"e":0.418},
      {"w":8138.4,"e":0.441},{"w":8142.3,"e":0.387},{"w":8146.3,"e":0.395},{"w":8152.8,"e":0.38},{"w":8159.5,"e":0.387},{"w":8172.5,"e":0.381},{"w":8185.6,"e":0.402},{"w":8198.6,"e":0.372},{"w":8211.7,"e":0.364},{"w":8218.2,"e":0.372},
      {"w":8224.7,"e":0.418},{"w":8231.2,"e":0.372},{"w":8244.3,"e":0.372},{"w":8257.3,"e":0.364},{"w":8267.1,"e":0.364},{"w":8271.7,"e":0.448},{"w":8275.6,"e":0.99},{"w":8280.8,"e":0.753},{"w":8284.8,"e":0.99},{"w":8288.7,"e":0.54},
      {"w":8292.6,"e":0.99},{"w":8297.8,"e":0.99},{"w":8300.4,"e":0.54},{"w":8304.3,"e":0.387},{"w":8308.2,"e":0.623},{"w":8312.2,"e":0.402},{"w":8322.6,"e":0.372},{"w":8331.7,"e":0.372},{"w":8335.7,"e":0.99},{"w":8342.2,"e":0.99},
      {"w":8346.1,"e":0.669},{"w":8350.0,"e":0.99},{"w":8353.9,"e":0.402},{"w":8357.8,"e":0.57},{"w":8361.8,"e":0.402},{"w":8365.7,"e":0.372},{"w":8369.6,"e":0.494},{"w":8373.5,"e":0.38},{"w":8378.7,"e":0.776},{"w":8384.0,"e":0.372},
      {"w":8389.2,"e":0.54},{"w":8394.4,"e":0.99},{"w":8398.3,"e":0.402},{"w":8403.5,"e":0.387},{"w":8408.7,"e":0.54},{"w":8412.7,"e":0.944},{"w":8416.6,"e":0.372},{"w":8420.5,"e":0.402},{"w":8425.7,"e":0.99},{"w":8429.6,"e":0.99},
      {"w":8433.5,"e":0.387},{"w":8438.8,"e":0.372},{"w":8444.0,"e":0.57},{"w":8449.2,"e":0.761},{"w":8453.1,"e":0.387},{"w":8458.3,"e":0.38},{"w":8463.6,"e":0.99},{"w":8468.8,"e":0.387},{"w":8479.2,"e":0.38},{"w":8485.8,"e":0.387},
      {"w":8491.0,"e":0.654},{"w":8496.2,"e":0.372},{"w":8501.4,"e":0.99},{"w":8506.6,"e":0.372},{"w":8517.1,"e":0.372},{"w":8530.1,"e":0.372},{"w":8535.4,"e":0.509},{"w":8539.3,"e":0.372},{"w":8544.5,"e":0.631},{"w":8549.7,"e":0.364},
      {"w":8557.5,"e":0.357},{"w":8570.6,"e":0.38},{"w":8581.0,"e":0.38},{"w":8584.9,"e":0.448},{"w":8590.1,"e":0.387},{"w":8594.1,"e":0.486},{"w":8599.3,"e":0.418},{"w":8604.5,"e":0.387},{"w":8609.7,"e":0.463},{"w":8615.0,"e":0.585},
      {"w":8620.2,"e":0.715},{"w":8624.1,"e":0.745},{"w":8628.0,"e":0.799},{"w":8633.2,"e":0.646},{"w":8638.5,"e":0.471},{"w":8643.7,"e":0.616},{"w":8648.9,"e":0.784},{"w":8654.1,"e":0.852},{"w":8656.7,"e":0.845},{"w":8662.0,"e":0.814},
      {"w":8667.2,"e":0.677},{"w":8671.1,"e":0.593},{"w":8676.3,"e":0.54},{"w":8681.5,"e":0.494},{"w":8686.8,"e":0.41},{"w":8692.0,"e":0.418},{"w":8701.1,"e":0.41},{"w":8711.6,"e":0.402},{"w":8716.8,"e":0.372},{"w":8727.2,"e":0.379},
      {"w":8733.7,"e":0.387},{"w":8746.7,"e":0.387},{"w":8750.6,"e":0.54},{"w":8754.6,"e":0.99},{"w":8759.8,"e":0.99},{"w":8763.7,"e":0.57},{"w":8767.6,"e":0.99},{"w":8771.5,"e":0.616},{"w":8776.7,"e":0.54},{"w":8780.7,"e":0.387},
      {"w":8784.6,"e":0.57},{"w":8787.2,"e":0.799},{"w":8791.1,"e":0.54},{"w":8795.0,"e":0.402},{"w":8800.2,"e":0.418},{"w":8804.2,"e":0.448},{"w":8808.1,"e":0.38},{"w":8812.0,"e":0.387},{"w":8818.5,"e":0.479},{"w":8822.4,"e":0.99},
      {"w":8825.0,"e":0.99},{"w":8827.7,"e":0.768},{"w":8831.6,"e":0.99},{"w":8835.5,"e":0.616},{"w":8839.4,"e":0.418},{"w":8843.3,"e":0.601},{"w":8845.9,"e":0.723},{"w":8849.8,"e":0.418},{"w":8853.8,"e":0.387},{"w":8859.0,"e":0.54},
      {"w":8862.9,"e":0.99},{"w":8866.8,"e":0.54},{"w":8870.7,"e":0.387},{"w":8874.6,"e":0.418},{"w":8878.6,"e":0.99},{"w":8882.5,"e":0.54},{"w":8886.4,"e":0.418},{"w":8890.3,"e":0.418},{"w":8894.2,"e":0.54},{"w":8898.1,"e":0.99},
      {"w":8902.0,"e":0.54},{"w":8906.0,"e":0.425},{"w":8909.9,"e":0.54},{"w":8913.8,"e":0.99},{"w":8917.7,"e":0.601},{"w":8921.6,"e":0.471},{"w":8925.5,"e":0.448},{"w":8929.5,"e":0.54},{"w":8933.4,"e":0.418},{"w":8937.3,"e":0.99},
      {"w":8942.5,"e":0.99},{"w":8946.4,"e":0.54},{"w":8950.3,"e":0.99},{"w":8955.6,"e":0.448},{"w":8959.5,"e":0.418},{"w":8963.4,"e":0.479},{"w":8967.3,"e":0.448},{"w":8971.2,"e":0.486},{"w":8975.1,"e":0.448},{"w":8977.8,"e":0.99},
      {"w":8983.0,"e":0.99},{"w":8985.6,"e":0.57},{"w":8989.5,"e":0.54},{"w":8993.4,"e":0.99},{"w":8997.3,"e":0.99},{"w":9001.2,"e":0.57},{"w":9005.2,"e":0.425},{"w":9009.1,"e":0.448},{"w":9013.0,"e":0.418},{"w":9016.9,"e":0.441},
      {"w":9020.8,"e":0.425},{"w":9024.7,"e":0.448},{"w":9028.7,"e":0.425},{"w":9032.6,"e":0.677},{"w":9036.5,"e":0.448},{"w":9040.4,"e":0.463},{"w":9044.3,"e":0.867},{"w":9048.2,"e":0.54},{"w":9052.1,"e":0.448},{"w":9056.1,"e":0.441},
      {"w":9060.0,"e":0.463},{"w":9063.9,"e":0.455},{"w":9067.8,"e":0.425},{"w":9071.7,"e":0.433},{"w":9077.0,"e":0.425},{"w":9083.5,"e":0.479},{"w":9087.4,"e":0.593},{"w":9091.3,"e":0.463},{"w":9095.2,"e":0.555},{"w":9097.8,"e":0.677},
      {"w":9101.7,"e":0.433},{"w":9105.7,"e":0.425},{"w":9118.7,"e":0.425},{"w":9131.8,"e":0.425},{"w":9138.3,"e":0.433},{"w":9142.2,"e":0.448},{"w":9146.1,"e":0.57},{"w":9150.0,"e":0.54},{"w":9154.0,"e":0.616},{"w":9157.9,"e":0.479},
      {"w":9161.8,"e":0.616},{"w":9165.7,"e":0.471},{"w":9170.9,"e":0.441},{"w":9184.0,"e":0.441},{"w":9197.0,"e":0.456},{"w":9203.6,"e":0.456},{"w":9207.5,"e":0.471},{"w":9211.4,"e":0.555},{"w":9215.3,"e":0.509},{"w":9219.2,"e":0.593},
      {"w":9223.1,"e":0.509},{"w":9227.0,"e":0.471},{"w":9236.2,"e":0.456},{"w":9242.7,"e":0.494},{"w":9246.6,"e":0.509},{"w":9250.5,"e":0.471},{"w":9254.5,"e":0.494},{"w":9258.4,"e":0.509},{"w":9262.3,"e":0.471},{"w":9267.5,"e":0.456},
      {"w":9272.7,"e":0.479},{"w":9276.7,"e":0.509},{"w":9280.6,"e":0.601},{"w":9284.5,"e":0.585},{"w":9288.4,"e":0.646},{"w":9292.3,"e":0.585},{"w":9296.2,"e":0.578},{"w":9300.0,"e":0.58}
    ]
  },
  "layer": [
    {
      "data": {"name": "err"},
      "mark": {"type": "line", "color": "#008000", "strokeWidth": 1.6, "strokeJoin": "round", "clip": true},
      "encoding": {
        "x": {"field": "w", "type": "quantitative", "title": "Wavelength", "scale": {"domain": [4749, 9300], "nice": false, "zero": false}},
        "y": {"field": "e", "type": "quantitative", "title": "10⁻¹⁸ erg s⁻¹ cm⁻² Å⁻¹", "scale": {"domain": [-1.3625, 0.971], "nice": false, "zero": false}}
      }
    },
    {
      "data": {"values": [{"level": 0}]},
      "mark": {"type": "rule", "color": "#0000ff", "strokeWidth": 5.5},
      "encoding": {
        "y": {"field": "level", "type": "quantitative", "title": "10⁻¹⁸ erg s⁻¹ cm⁻² Å⁻¹", "scale": {"domain": [-1.3625, 0.971], "nice": false, "zero": false}}
      }
    },
    {
      "data": {"name": "flux"},
      "mark": {"type": "line", "color": "black", "strokeWidth": 4.5, "strokeJoin": "round", "clip": true},
      "encoding": {
        "x": {
          "field": "w",
          "type": "quantitative",
          "title": "Wavelength",
          "scale": {"domain": [4749, 9300], "nice": false, "zero": false},
          "axis": {
            "values": [5000, 6000, 7000, 8000, 9000],
            "format": "d"
          }
        },
        "y": {
          "field": "f",
          "type": "quantitative",
          "title": "10⁻¹⁸ erg s⁻¹ cm⁻² Å⁻¹",
          "scale": {"domain": [-1.3625, 0.971], "nice": false, "zero": false},
          "axis": {
            "values": [-1, -0.5, 0, 0.5],
            "format": ".1f"
          }
        }
      }
    }
  ],
  "config": {
    "view": {"stroke": "black", "strokeWidth": 3},
    "axis": {
      "domain": false,
      "grid": false,
      "tickSize": 14,
      "tickWidth": 3,
      "tickColor": "black",
      "labelFont": "DejaVu Sans",
      "labelColor": "black",
      "labelFlush": false,
      "labelOverlap": false,
      "titleFont": "DejaVu Sans",
      "titleFontWeight": "normal",
      "titleColor": "black"
    },
    "axisX": {
      "labelFontSize": 27.5,
      "labelBaseline": "alphabetic",
      "labelPadding": 37,
      "titleFontSize": 34,
      "titleBaseline": "alphabetic",
      "titleY": 87
    },
    "axisY": {
      "labelFontSize": 35,
      "labelPadding": 18,
      "titleFontSize": 48,
      "titleAngle": 270,
      "titleAlign": "center",
      "titleBaseline": "alphabetic",
      "titleX": -149,
      "titleY": 346
    }
  }
}
